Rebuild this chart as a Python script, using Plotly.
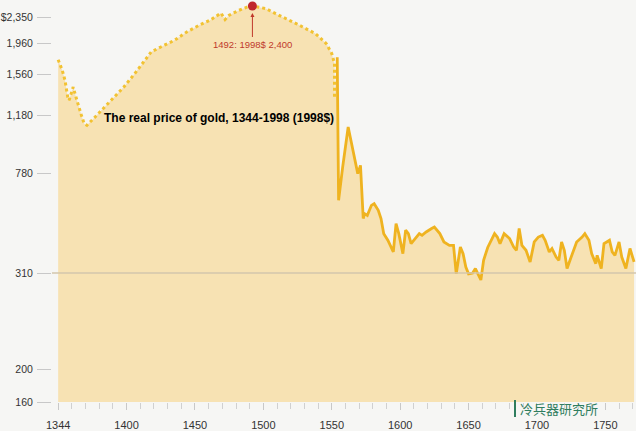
import numpy as np
import plotly.graph_objects as go

# ---- data (1998 dollars) ----
years_early = [1350, 1353, 1355, 1357, 1358, 1360, 1361, 1363, 1365, 1367,
               1369, 1371, 1377, 1384, 1391, 1398, 1406, 1413, 1418, 1425,
               1435, 1444, 1453, 1461, 1469, 1472, 1475, 1482, 1488, 1492,
               1502, 1509, 1517, 1524, 1531, 1538, 1546, 1550, 1552, 1552,
               1552]
price_early = [1750, 1612, 1504, 1350, 1319, 1396, 1442, 1350, 1257, 1180,
               1122, 1111, 1168, 1257, 1350, 1442, 1569, 1742, 1851, 1916,
               2008, 2130, 2228, 2302, 2368, 2312, 2358, 2380, 2395, 2400,
               2388, 2365, 2327, 2253, 2180, 2107, 1960, 1830, 1699, 1535,
               1350]

years_late = [1554, 1555, 1558, 1562, 1565, 1569, 1571, 1572, 1573, 1574,
              1576, 1579, 1581, 1584, 1586, 1588, 1591, 1595, 1597, 1599,
              1602, 1604, 1606, 1608, 1612, 1614, 1616, 1619, 1623, 1625,
              1629, 1632, 1636, 1639, 1641, 1644, 1646, 1648, 1650, 1653,
              1655, 1657, 1659, 1661, 1664, 1669, 1671, 1673, 1676, 1680,
              1683, 1685, 1687, 1689, 1692, 1695, 1698, 1701, 1704, 1706,
              1709, 1711, 1714, 1716, 1718, 1720, 1722, 1725, 1727, 1729,
              1733, 1735, 1738, 1740, 1743, 1744, 1747, 1749, 1751, 1753,
              1755, 1757, 1760, 1762, 1765, 1768, 1771]
price_late = [1781, 652, 822, 1099, 960, 777, 833, 652, 566, 589,
              581, 628, 636, 605, 566, 495, 464, 409, 542, 495,
              401, 511, 495, 448, 479, 495, 487, 503, 519, 526,
              495, 456, 440, 440, 309, 432, 401, 338, 309, 310,
              331, 309, 302, 370, 430, 495, 479, 448, 495, 472,
              432, 417, 519, 440, 417, 362, 456, 479, 487, 464,
              409, 425, 385, 370, 456, 417, 331, 385, 417, 456,
              479, 495, 464, 401, 354, 393, 331, 448, 456, 464,
              409, 393, 456, 385, 331, 425, 362]

peak_year = 1492
peak_price = 2400

y_tick_values = [160, 200, 310, 780, 1180, 1560, 1960, 2350]
y_tick_labels = ["160", "200", "310", "780", "1,180", "1,560", "1,960", "$2,350"]
x_tick_values = [1350, 1400, 1450, 1500, 1550, 1600, 1650, 1700, 1750]
x_tick_labels = ["1344", "1400", "1450", "1500", "1550", "1600", "1650", "1700", "1750"]

# ---- the chart's own (irregular) vertical scale ----
SCALE_VALUES = [160, 200, 310, 780, 1180, 1560, 1960, 2350, 2400]
SCALE_POS = [0, 32.7, 129, 229, 286.7, 327.7, 358.4, 385, 396]


def yscale(v):
    return np.interp(np.asarray(v, dtype=float), SCALE_VALUES, SCALE_POS)


FONT = "Liberation Sans, Arial, sans-serif"
GOLD = "#efb320"
DOT_GOLD = "#f2c232"
FILL = "#f7e2b3"
BG = "#f6f6f4"

all_years = years_early + years_late
all_price = price_early + price_late

fig = go.Figure()
fig.add_trace(go.Scatter(x=all_years, y=yscale(all_price), mode="lines",
                         line=dict(width=0), fill="tozeroy", fillcolor=FILL,
                         hoverinfo="skip", showlegend=False))
fig.add_trace(go.Scatter(x=years_early, y=yscale(price_early), mode="lines",
                         line=dict(color=DOT_GOLD, width=3, dash="3px,3px"),
                         showlegend=False))
fig.add_trace(go.Scatter(x=years_late, y=yscale(price_late), mode="lines",
                         line=dict(color=GOLD, width=2.8), showlegend=False))
fig.add_trace(go.Scatter(x=[peak_year], y=yscale([peak_price]), mode="markers",
                         marker=dict(color="#c0262d", size=9), cliponaxis=False,
                         showlegend=False))

# reference line at 310
fig.add_shape(type="line", xref="paper", x0=0, x1=1, yref="y",
              y0=float(yscale(310)), y1=float(yscale(310)),
              line=dict(color="#d3c6ad", width=1.5), layer="above")

fig.add_annotation(x=peak_year, y=float(yscale(peak_price)),
                   text="1492: 1998$ 2,400", showarrow=True, ax=0, ay=38,
                   arrowhead=2, arrowsize=0.8, arrowwidth=1, arrowcolor="#c0392b",
                   standoff=7, font=dict(family=FONT, size=9.5, color="#c0392b"))
fig.add_annotation(xref="paper", yref="paper", x=(102 - 52) / 584, y=(402 - 118) / 402,
                   xanchor="left", yanchor="middle", showarrow=False,
                   text="<b>The real price of gold, 1344-1998 (1998$)</b>",
                   font=dict(family=FONT, size=12, color="#000000"))
# watermark
fig.add_shape(type="line", xref="paper", yref="paper",
              x0=(515 - 52) / 584, x1=(515 - 52) / 584,
              y0=(402 - 400) / 402, y1=(402 - 417) / 402,
              line=dict(color="#2f7d5e", width=2))
fig.add_annotation(xref="paper", yref="paper", x=(559 - 52) / 584, y=(402 - 408.5) / 402,
                   xanchor="center", yanchor="middle", showarrow=False,
                   text="冷兵器研究所",
                   font=dict(family="Noto Sans CJK SC", size=13, color="#2f7d5e"))

fig.update_layout(
    width=636, height=431,
    margin=dict(l=52, r=0, t=0, b=29, pad=0, autoexpand=False),
    paper_bgcolor=BG, plot_bgcolor=BG,
    font=dict(family=FONT, size=11, color="#333333"),
    xaxis=dict(range=[1345.5, 1772.4], showgrid=False, zeroline=False,
               showline=False, tickmode="array", tickvals=x_tick_values,
               ticktext=x_tick_labels, ticks="outside", ticklen=7,
               tickcolor="#c8c8c8", tickwidth=1, ticklabelstandoff=6,
               automargin=False,
               tickfont=dict(family=FONT, size=11, color="#333333"),
               minor=dict(dtick=10, tick0=1350, ticks="outside", ticklen=6,
                          tickcolor="#d0d0d0", showgrid=False)),
    yaxis=dict(range=[0, 402], showgrid=False, zeroline=False, showline=False,
               tickmode="array", tickvals=list(yscale(y_tick_values)),
               ticktext=y_tick_labels, ticks="outside", ticklen=14,
               tickcolor="#c8c8c8", tickwidth=1, ticklabelstandoff=2,
               automargin=False,
               tickfont=dict(family=FONT, size=10.5, color="#333333")),
)

fig.write_html("out.html", config={"displayModeBar": False},
               post_script="document.body.style.margin='0';")
